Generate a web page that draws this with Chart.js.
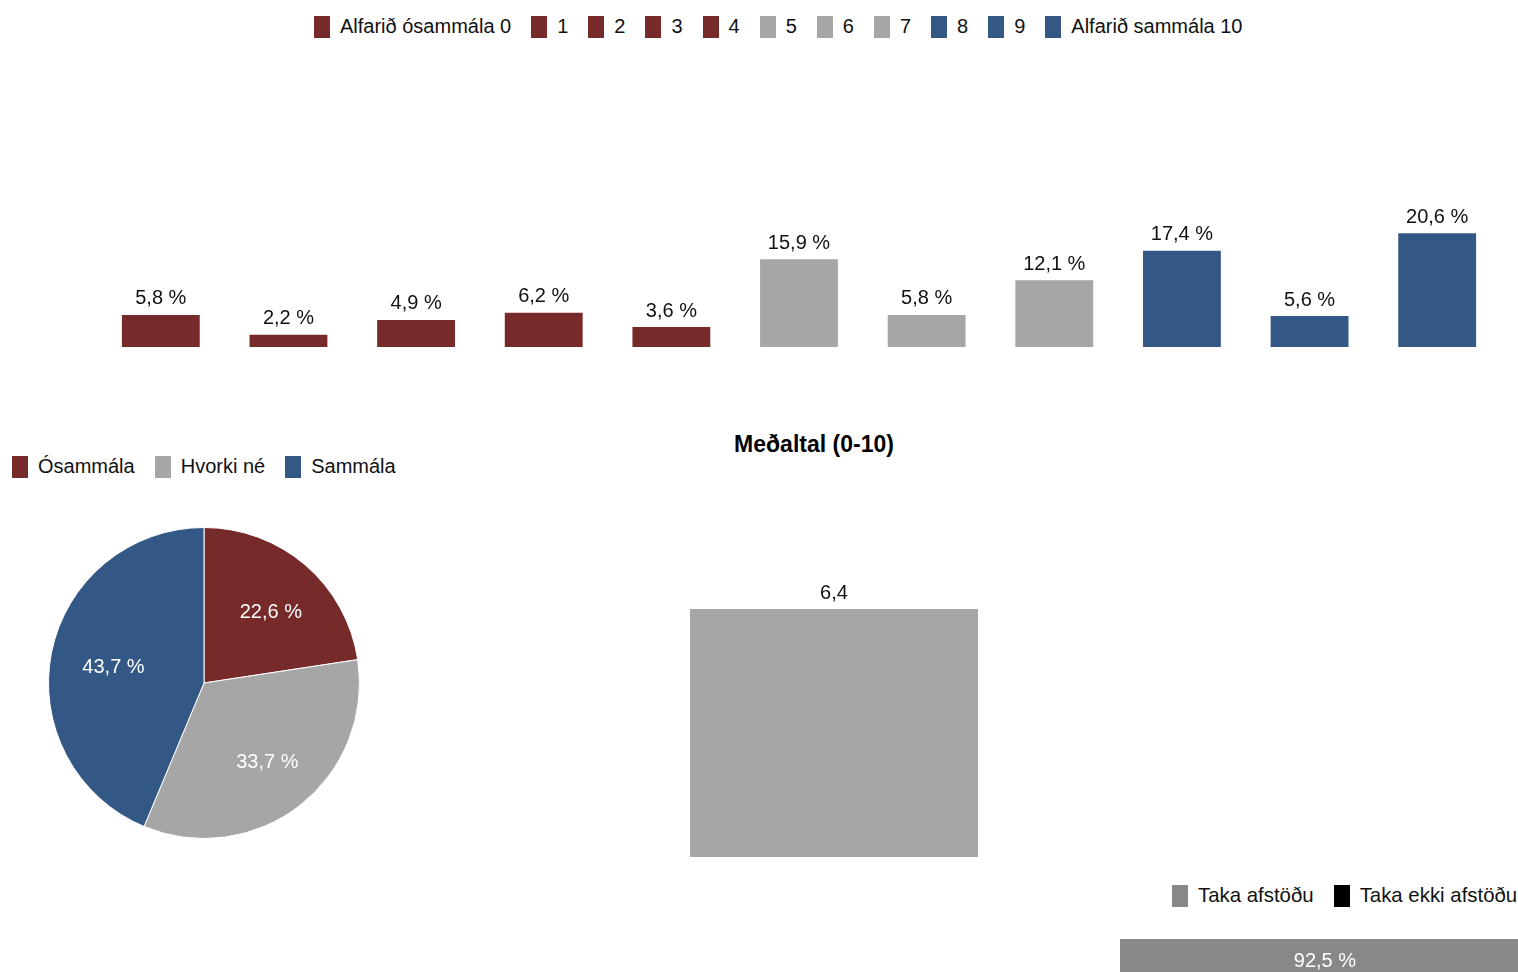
<!DOCTYPE html>
<html lang="is">
<head>
  <meta charset="UTF-8">
  <title>Afstaða 0-10</title>
  <script src="https://cdn.jsdelivr.net/npm/chart.js"></script>
  <style>
    body {
      margin: 0;
      width: 1518px;
      height: 972px;
      overflow: hidden;
      position: relative;
      background: #fff;
      font-family: "Liberation Sans", Arial, sans-serif;
    }
    canvas { position: absolute; }
    .legend {
      position: absolute;
      display: flex;
      align-items: center;
      white-space: nowrap;
    }
    .legend-item {
      display: flex;
      align-items: center;
      margin-right: 20px; /* space between items */
    }
    .legend-color-box {
      width: 16px;
      height: 22px;
      margin-right: 10px;
    }
    .legend-label {
      font-size: 20px;
      color: #111;
    }
    #legendStance .legend-label { font-size: 20.4px; }
    .title {
      position: absolute;
      left: 614px;
      width: 400px;
      text-align: center;
      font-size: 23px;
      font-weight: bold;
      color: #000;
    }
  </style>
</head>
<body>
  <div id="legendTop" class="legend" style="left:314px; top:15px;"></div>
  <canvas id="scaleChart" width="1518" height="380" style="left:0; top:0;"></canvas>

  <div id="legendPie" class="legend" style="left:12px; top:455px;"></div>
  <canvas id="pieChart" width="420" height="370" style="left:0; top:510px;"></canvas>

  <div class="title" style="top:431px;">Meðaltal (0-10)</div>
  <canvas id="meanChart" width="330" height="410" style="left:670px; top:460px;"></canvas>

  <div id="legendStance" class="legend" style="left:1172px; top:884px;"></div>
  <canvas id="stanceChart" width="480" height="60" style="left:1100px; top:930px;"></canvas>

  <script>
    // data
    const scaleLabels = ['Alfarið ósammála 0', '1', '2', '3', '4', '5', '6', '7', '8', '9', 'Alfarið sammála 10'];
    const scaleValues = [5.8, 2.2, 4.9, 6.2, 3.6, 15.9, 5.8, 12.1, 17.4, 5.6, 20.6];

    const groupLabels = ['Ósammála', 'Hvorki né', 'Sammála'];
    const groupValues = [22.6, 33.7, 43.7];

    const meanLabels = ['Meðaltal (0-10)'];
    const meanValues = [6.4];

    const stanceLabels = ['Taka afstöðu', 'Taka ekki afstöðu'];
    const stanceValues = [92.5, 7.5];

    // colours
    const RED = '#772a2a';
    const GREY = '#a6a6a6';
    const BLUE = '#345886';
    const scaleColors = [RED, RED, RED, RED, RED, GREY, GREY, GREY, BLUE, BLUE, BLUE];
    const groupColors = [RED, GREY, BLUE];
    const stanceColors = ['#888888', '#000000'];

    const FONT = '"Liberation Sans", Arial, sans-serif';
    const fmt = (v, pct) => v.toFixed(1).replace('.', ',') + (pct ? ' %' : '');

    Chart.defaults.font.family = FONT;
    Chart.defaults.animation = false;
    Chart.defaults.responsive = false;
    Chart.defaults.plugins.legend.display = false;
    Chart.defaults.plugins.tooltip.enabled = false;

    function buildLegend(id, labels, colors) {
      const box = document.getElementById(id);
      labels.forEach((text, i) => {
        const item = document.createElement('div');
        item.className = 'legend-item';
        const color = document.createElement('div');
        color.className = 'legend-color-box';
        color.style.backgroundColor = colors[i];
        const label = document.createElement('div');
        label.className = 'legend-label';
        label.innerText = text;
        item.appendChild(color);
        item.appendChild(label);
        box.appendChild(item);
      });
    }
    buildLegend('legendTop', scaleLabels, scaleColors);
    buildLegend('legendPie', groupLabels, groupColors);
    buildLegend('legendStance', stanceLabels, stanceColors);

    // value above each vertical bar
    const labelsAbove = (pct) => ({
      id: 'labelsAbove',
      afterDatasetsDraw(chart) {
        const c = chart.ctx;
        const meta = chart.getDatasetMeta(0);
        c.save();
        c.font = '20px ' + FONT;
        c.fillStyle = '#111';
        c.textAlign = 'center';
        c.textBaseline = 'middle';
        meta.data.forEach((bar, i) => {
          c.fillText(fmt(chart.data.datasets[0].data[i], pct), bar.x, bar.y - 16);
        });
        c.restore();
      }
    });

    const hidden = { display: false };

    // 0-10 distribution
    new Chart(document.getElementById('scaleChart'), {
      type: 'bar',
      data: {
        labels: scaleLabels,
        datasets: [{
          data: scaleValues,
          backgroundColor: scaleColors,
          barPercentage: 0.61,
          categoryPercentage: 1
        }]
      },
      options: {
        layout: { padding: { left: 97, right: 17, top: 126, bottom: 33 } },
        scales: {
          x: hidden,
          y: { display: false, min: 0, max: 40 }
        }
      },
      plugins: [labelsAbove(true)]
    });

    // pie of grouped answers
    new Chart(document.getElementById('pieChart'), {
      type: 'pie',
      data: {
        labels: groupLabels,
        datasets: [{
          data: groupValues,
          backgroundColor: groupColors,
          borderColor: '#ffffff',
          borderWidth: 1
        }]
      },
      options: {
        layout: { padding: { left: 48, right: 60, top: 17, bottom: 41 } }
      },
      plugins: [{
        id: 'pieLabels',
        afterDatasetsDraw(chart) {
          const c = chart.ctx;
          const meta = chart.getDatasetMeta(0);
          c.save();
          c.font = '20px ' + FONT;
          c.fillStyle = '#ffffff';
          c.textAlign = 'center';
          c.textBaseline = 'middle';
          meta.data.forEach((arc, i) => {
            const mid = (arc.startAngle + arc.endAngle) / 2;
            const r = arc.outerRadius * 0.62;
            c.fillText(fmt(groupValues[i], true), arc.x + Math.cos(mid) * r + 4, arc.y + Math.sin(mid) * r + 3);
          });
          c.restore();
        }
      }]
    });

    // mean
    new Chart(document.getElementById('meanChart'), {
      type: 'bar',
      data: {
        labels: meanLabels,
        datasets: [{
          data: meanValues,
          backgroundColor: GREY,
          barPercentage: 1,
          categoryPercentage: 1
        }]
      },
      options: {
        layout: { padding: { left: 20, right: 22, top: 10, bottom: 13 } },
        scales: {
          x: hidden,
          y: { display: false, min: 0, max: 10 }
        }
      },
      plugins: [labelsAbove(false)]
    });

    // with / without a stance
    new Chart(document.getElementById('stanceChart'), {
      type: 'bar',
      data: {
        labels: [''],
        datasets: stanceLabels.map((name, i) => ({
          label: name,
          data: [stanceValues[i]],
          backgroundColor: stanceColors[i],
          barPercentage: 1,
          categoryPercentage: 1
        }))
      },
      options: {
        indexAxis: 'y',
        layout: { padding: { left: 20, right: 17, top: 9, bottom: 11 } },
        scales: {
          x: { display: false, stacked: true, min: 0, max: 100 },
          y: { display: false, stacked: true }
        }
      },
      plugins: [{
        id: 'stanceLabels',
        afterDatasetsDraw(chart) {
          const c = chart.ctx;
          c.save();
          c.font = '20px ' + FONT;
          c.fillStyle = '#ffffff';
          c.textAlign = 'center';
          c.textBaseline = 'middle';
          chart.data.datasets.forEach((ds, i) => {
            const bar = chart.getDatasetMeta(i).data[0];
            c.fillText(fmt(ds.data[0], true), (bar.x + bar.base) / 2, bar.y + 2);
          });
          c.restore();
        }
      }]
    });
  </script>
</body>
</html>
